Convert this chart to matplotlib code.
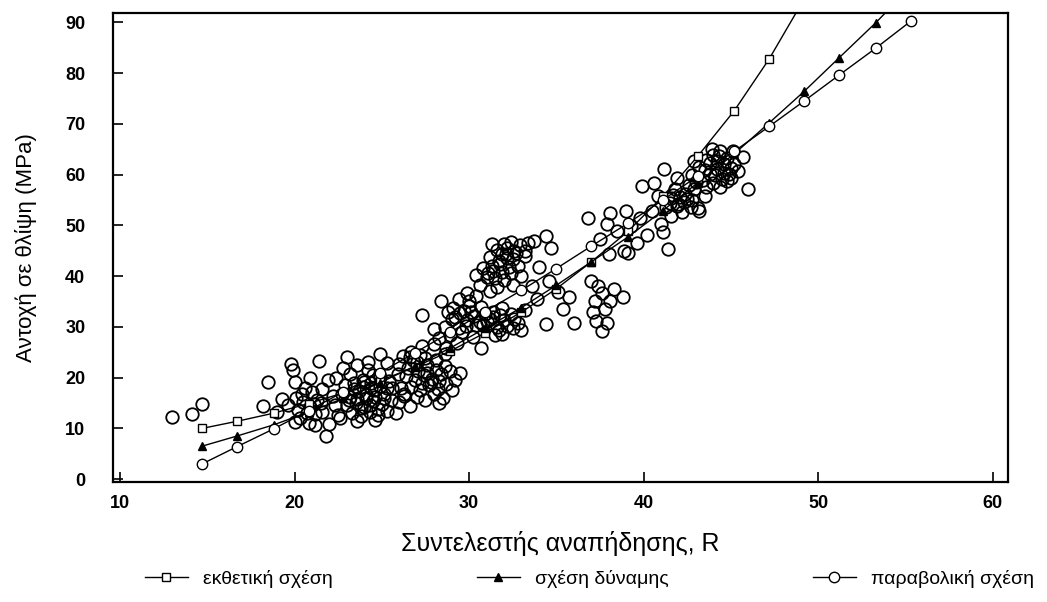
import numpy as np
import matplotlib
matplotlib.use("Agg")
import matplotlib.pyplot as plt

plt.rcParams['font.family'] = ['Liberation Sans', 'DejaVu Sans']

# μετρήσεις: συντελεστής αναπήδησης R - αντοχή σε θλίψη (MPa)
r_meas = [
    13.0, 14.1, 14.7, 18.2, 18.5,
    # ομάδα γύρω από R=20
    19.8, 19.9, 20.0, 20.9, 21.4, 19.3, 19.6, 20.1, 20.5, 20.9, 21.3, 20.3, 20.8, 21.2,
    20.0, 21.8, 22.0, 21.6, 21.0, 21.6, 22.2, 19.0, 20.6, 21.9, 22.3, 22.5, 21.2,
    # ομάδα γύρω από R=24
    22.8, 23.2, 23.6, 24.2, 24.9, 25.3, 22.9, 23.4, 23.9, 24.4, 24.9, 25.4, 25.9, 22.7,
    23.2, 23.7, 24.1, 24.6, 25.1, 25.6, 26.1, 23.0, 23.5, 24.0, 24.5, 25.0, 25.5, 26.0,
    23.3, 23.8, 24.3, 24.8, 25.3, 22.6, 23.6, 24.6, 25.8, 26.3, 26.6, 22.4, 24.2, 23.0,
    # ομάδα γύρω από R=27.5
    26.2, 26.7, 27.2, 26.0, 26.5, 27.0, 27.6, 28.1, 28.6, 27.3, 28.0, 26.4, 26.9, 27.4,
    27.9, 28.4, 28.9, 26.7, 27.2, 27.7, 28.2, 28.7, 29.2, 27.0, 27.5, 28.0, 28.5, 29.0,
    29.5, 28.3, 26.3,
    # ομάδα γύρω από R=29.5
    28.4, 29.4, 27.3, 28.3, 28.6, 29.0, 29.5, 30.0, 30.4, 29.8, 28.9, 29.3, 30.2, 30.6,
    29.1, 29.9, 30.7, 28.7, 30.7, 29.6, 30.3, 28.0,
    # ομάδα γύρω από R=32 (πάνω)
    30.6, 31.0, 31.4, 31.8, 32.2, 32.6, 31.2, 31.6, 32.0, 32.4, 32.9, 33.2, 32.8, 32.4,
    32.0, 31.6, 30.8, 31.2, 33.0, 30.4, 31.9, 32.5, 33.4, 31.3,
    # ομάδα γύρω από R=32 (κάτω)
    30.8, 31.2, 31.6, 32.0, 32.4, 31.4, 31.9, 32.8, 33.2, 30.9, 31.9, 33.0, 31.5, 32.5,
    # R=33-36
    33.7, 34.4, 34.7, 33.2, 34.0, 33.6, 34.4, 35.4, 35.7, 36.0, 35.1, 34.6, 33.9,
    # R=37-39 (χαμηλά)
    37.0, 37.4, 37.2, 37.6, 38.1, 38.8, 37.3, 37.6, 37.9, 37.1, 37.8, 38.3,
    # R=37-40 (ψηλά)
    36.8, 38.1, 39.0, 37.5, 38.5, 39.3, 38.9, 39.1, 39.6, 38.0, 39.8, 40.2, 37.9,
    # R=40-43.5
    39.9, 40.6, 41.2, 41.0, 41.1, 41.4, 41.3, 41.6, 42.0, 42.4, 42.8, 43.1, 41.8, 42.2,
    42.6, 43.2, 41.6, 40.8, 42.9, 41.9, 40.5, 43.5,
    # R=43-46
    42.8, 43.2, 43.6, 44.0, 44.4, 44.8, 45.2, 45.7, 43.4, 43.8, 44.2, 44.6, 45.0, 45.4,
    43.6, 44.0, 44.4, 44.8, 43.0, 45.1, 43.9, 42.9, 46.0,
]
s_meas = [
    12.2, 12.8, 14.9, 14.4, 19.1,
    22.7, 21.6, 19.2, 20.0, 23.3, 15.8, 14.6, 16.0, 15.2, 14.3, 15.6, 12.0, 11.0, 10.6,
    11.2, 8.5, 10.8, 13.2, 17.2, 17.8, 16.4, 13.2, 18.0, 19.6, 14.6, 12.6, 12.8,
    22.0, 20.8, 22.4, 21.6, 24.6, 22.8, 18.6, 18.9, 19.5, 19.0, 20.2, 19.4, 20.8, 16.8,
    16.2, 17.3, 16.5, 17.6, 16.8, 17.9, 18.0, 14.6, 15.0, 14.2, 15.4, 14.8, 15.6, 15.2,
    13.0, 12.4, 13.2, 12.6, 13.4, 12.0, 11.4, 11.6, 13.0, 16.4, 14.4, 20.0, 23.0, 24.0,
    24.2, 25.0, 24.4, 22.6, 22.0, 23.0, 22.5, 23.4, 24.6, 26.2, 26.6, 20.4, 19.6, 20.6,
    19.8, 20.8, 21.4, 18.2, 17.6, 18.6, 17.8, 18.8, 19.6, 16.2, 15.6, 16.8, 16.0, 17.6,
    21.0, 15.0, 16.8,
    35.1, 35.5, 32.3, 27.9, 30.0, 31.6, 32.8, 34.2, 36.0, 30.2, 28.4, 26.9, 28.0, 31.0,
    33.8, 36.6, 34.0, 25.8, 25.9, 29.0, 32.2, 29.6,
    38.2, 39.8, 41.0, 42.4, 43.6, 45.0, 43.8, 45.2, 46.4, 46.8, 46.2, 44.0, 42.0, 40.6,
    39.2, 37.9, 41.6, 37.0, 40.0, 40.2, 44.3, 38.2, 46.6, 46.4,
    30.4, 31.6, 30.0, 31.4, 32.6, 33.0, 28.6, 30.8, 33.4, 32.6, 33.8, 29.4, 28.4, 29.8,
    47.0, 47.9, 45.6, 45.0, 41.8, 38.0, 30.6, 33.5, 35.8, 30.8, 36.8, 39.0, 35.4,
    39.0, 38.0, 35.1, 36.6, 35.1, 35.9, 31.2, 29.2, 30.8, 33.0, 33.6, 37.4,
    51.5, 52.5, 52.9, 47.3, 48.9, 49.9, 45.0, 44.6, 46.6, 44.4, 51.4, 48.2, 50.2,
    57.8, 58.4, 61.1, 50.3, 48.6, 45.4, 53.6, 55.4, 54.2, 56.2, 55.0, 53.4, 57.2, 52.6,
    58.0, 52.9, 51.8, 55.8, 57.2, 59.4, 52.8, 55.8,
    60.0, 61.6, 62.8, 63.8, 64.6, 63.2, 62.0, 63.4, 59.0, 60.2, 61.2, 60.4, 59.4, 60.8,
    57.6, 58.4, 57.6, 58.8, 58.6, 64.6, 65.0, 62.6, 57.1,
]

# πυκνά κέντρα των ομάδων (επικαλυπτόμενοι κύκλοι)
r_dense = [
    23.4, 23.9, 24.4, 24.9, 23.6, 24.1, 24.6, 25.1, 23.8, 24.3, 24.8, 23.1, 24.0, 25.3, 24.5,
    20.2, 20.7, 21.1, 20.4, 21.5,
    27.1, 27.6, 28.1, 27.3, 27.8, 28.3, 26.8, 27.5, 28.6, 26.6,
    29.2, 29.7, 30.1, 29.4, 29.9, 30.4, 28.8, 30.0,
    31.3, 31.7, 32.1, 32.5, 31.5, 31.9, 32.3, 32.7, 31.1, 32.2,
    31.0, 31.4, 31.8, 32.2, 32.6, 31.7,
    41.7, 42.1, 42.5, 41.9, 42.3, 42.7, 41.5,
    43.8, 44.2, 44.6, 45.0, 44.1, 44.5, 44.9, 43.5, 44.3,
]
s_dense = [
    17.8, 18.2, 17.9, 18.4, 15.8, 16.0, 16.2, 15.9, 14.0, 14.6, 13.9, 15.5, 19.2, 18.0, 20.6,
    13.6, 13.0, 14.8, 16.8, 15.0,
    21.4, 21.0, 21.6, 19.0, 19.2, 19.4, 23.4, 23.8, 22.2, 24.0,
    32.0, 33.2, 33.0, 29.8, 31.4, 30.4, 33.0, 35.2,
    42.0, 43.0, 44.4, 43.4, 39.6, 40.8, 41.8, 44.6, 40.6, 45.6,
    31.2, 32.0, 32.4, 30.2, 31.6, 29.4,
    56.0, 55.6, 55.2, 53.8, 54.6, 53.6, 54.4,
    62.2, 62.6, 62.0, 61.4, 60.0, 59.2, 60.2, 61.0, 63.6,
]

# καμπύλες προσαρμογής (τιμές στα σημεία των συμβόλων)
r_fit = [14.7, 16.7, 18.8, 20.8, 22.8, 24.9, 26.9, 28.9, 30.9, 33.0, 35.0,
         37.0, 39.1, 41.1, 43.1, 45.2, 47.2, 49.2, 51.2, 53.3, 55.3]
s_exp = [10.0, 11.4, 13.0, 14.9, 17.0, 19.4, 22.1, 25.2, 28.8, 32.9, 37.5,
         42.8, 48.8, 55.7, 63.6, 72.6, 82.8, 94.6]
s_pow = [6.5, 8.5, 10.7, 13.2, 15.9, 19.0, 22.3, 25.8, 29.7, 33.8, 38.2,
         42.8, 47.7, 52.9, 58.4, 64.1, 70.2, 76.4, 83.0, 89.9, 97.0]
s_par = [3.0, 6.4, 9.9, 13.5, 17.2, 21.0, 24.9, 28.9, 33.0, 37.2, 41.5,
         45.9, 50.4, 55.0, 59.7, 64.6, 69.5, 74.5, 79.6, 84.9, 90.2]

labels = ['εκθετική σχέση', 'σχέση δύναμης', 'παραβολική σχέση']

fig = plt.figure(figsize=(10.47, 6.02), dpi=100)
ax = fig.add_axes([0.108, 0.199, 0.855, 0.779])

ax.plot(r_meas + r_dense, s_meas + s_dense, 'o', ms=9, mfc='none', mec='black',
        mew=1.3, zorder=2)

ax.plot(r_fit[:len(s_exp)], s_exp, '-s', color='black', lw=1.0, ms=6,
        mfc='white', mec='black', mew=1.0, label=labels[0], zorder=3)
ax.plot(r_fit, s_pow, '-^', color='black', lw=1.0, ms=5.5,
        mfc='black', mec='black', label=labels[1], zorder=3)
ax.plot(r_fit, s_par, '-o', color='black', lw=1.0, ms=7.5,
        mfc='white', mec='black', mew=1.0, label=labels[2], zorder=3)

ax.set_xlim(9.6, 60.9)
ax.set_ylim(-0.6, 91.8)
ax.set_xticks(np.arange(10, 61, 10))
ax.set_yticks(np.arange(0, 91, 10))
ax.tick_params(direction='in', length=7, width=1.2, labelsize=13)
ax.tick_params(axis='y', pad=20)
ax.tick_params(axis='x', pad=9)
for lab in ax.get_xticklabels() + ax.get_yticklabels():
    lab.set_fontweight('bold')
for sp in ax.spines.values():
    sp.set_linewidth(1.6)

ax.set_xlabel('Συντελεστής αναπήδησης, R', fontsize=18, labelpad=14)
ax.set_ylabel('Αντοχή σε θλίψη (MPa)', fontsize=16, labelpad=20)

fig.legend(loc='lower center', bbox_to_anchor=(0.563, -0.005), ncol=3,
           frameon=False, fontsize=14, columnspacing=7.4, handlelength=2.2,
           handletextpad=0.8)

fig.savefig('out.png', dpi=100)
